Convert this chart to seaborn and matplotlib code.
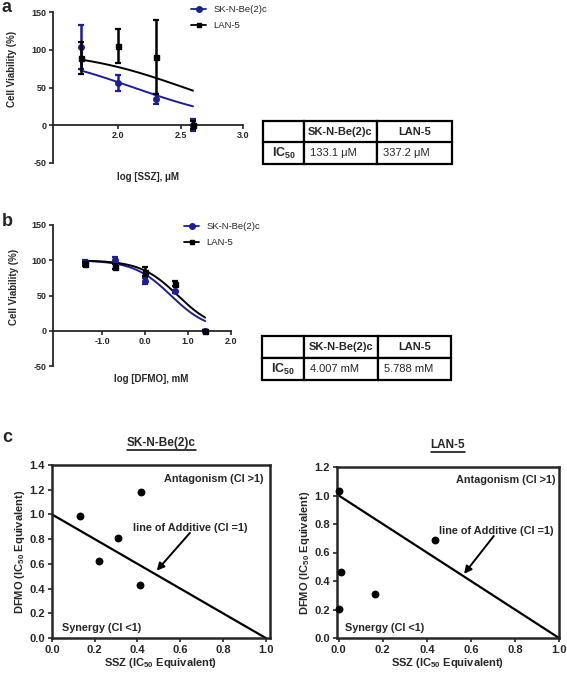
import numpy as np
import pandas as pd
import matplotlib
matplotlib.use("Agg")
import matplotlib.pyplot as plt
import seaborn as sns
from matplotlib.lines import Line2D

# ---------------- data ----------------
cell_lines = ["SK-N-Be(2)c", "LAN-5"]
line_colors = ["#1c1f94", "#000000"]
line_markers = ["o", "s"]

# panel a : SSZ dose response
ssz_log_conc = [1.7, 2.0, 2.3, 2.6]
ssz_skn_mean = [104, 56, 35, 0]
ssz_skn_sd = [29, 10, 7, 8]
ssz_lan_mean = [89, 105, 90, 0]
ssz_lan_sd = [21, 22, 49, 5]
ssz_ic50_um = [133.1, 337.2]
ssz_ic50_text = ["133.1 μM", "337.2 μM"]
ssz_xticks = [2.0, 2.5, 3.0]

# panel b : DFMO dose response
dfmo_log_conc = [-1.4, -0.7, 0.0, 0.7, 1.4]
dfmo_skn_mean = [98, 100, 71, 56, 0]
dfmo_skn_sd = [3, 5, 4, 2, 1]
dfmo_lan_mean = [95, 91, 84, 67, 0]
dfmo_lan_sd = [3, 4, 6, 3, 1]
dfmo_ic50_mm = [4.007, 5.788]
dfmo_ic50_text = ["4.007 mM", "5.788 mM"]
dfmo_xticks = [-1.0, 0.0, 1.0, 2.0]

viability_yticks = [-50, 0, 50, 100, 150]
hill_slope = 1.0

# panel c : isobolograms
iso_skn_ssz = [0.13, 0.22, 0.31, 0.415, 0.41]
iso_skn_dfmo = [0.99, 0.62, 0.81, 1.18, 0.43]
iso_lan_ssz = [0.0, 0.008, 0.0, 0.166, 0.435]
iso_lan_dfmo = [1.035, 0.465, 0.205, 0.31, 0.69]
additive_ssz = [0.0, 1.0]
additive_dfmo = [1.0, 0.0]
iso_xticks = [0.0, 0.2, 0.4, 0.6, 0.8, 1.0]
iso_skn_yticks = [0.0, 0.2, 0.4, 0.6, 0.8, 1.0, 1.2, 1.4]
iso_lan_yticks = [0.0, 0.2, 0.4, 0.6, 0.8, 1.0, 1.2]

# ---------------- style ----------------
sns.set_theme(style="ticks")
plt.rcParams["font.family"] = ["Liberation Sans", "DejaVu Sans"]
plt.rcParams["mathtext.fontset"] = "custom"
plt.rcParams["mathtext.rm"] = "Liberation Sans"
plt.rcParams["mathtext.bf"] = "Liberation Sans:bold"
plt.rcParams["mathtext.it"] = "Liberation Sans:italic"
plt.rcParams["axes.unicode_minus"] = False

W, H = 567, 675
fig = plt.figure(figsize=(W / 100, H / 100), dpi=100)


def fbox(x0, y0, x1, y1):
    return [x0 / W, 1 - y1 / H, (x1 - x0) / W, (y1 - y0) / H]


GP = ["Liberation Sans Narrow", "Liberation Sans", "DejaVu Sans"]


def dose_panel(ax, xs, means, sds, ic50s, xlim, xticks, xlabel, xlab_x, ylab_y):
    for i, name in enumerate(cell_lines):
        logic = np.log10(ic50s[i])
        xf = np.linspace(xs[0], xs[-1], 200)
        yf = 100.0 / (1.0 + 10 ** ((xf - logic) * hill_slope))
        sns.lineplot(x=xf, y=yf, ax=ax, color=line_colors[i], lw=1.4, zorder=2)
    for i, name in enumerate(cell_lines):
        ax.errorbar(xs, means[i], yerr=sds[i], fmt=line_markers[i], color=line_colors[i],
                    ms=4.0 if i == 0 else 3.6, elinewidth=1.8, capsize=2.2, capthick=1.6,
                    zorder=3 + i)
    ax.set_xlim(*xlim)
    ax.set_ylim(-50, 150)
    ax.set_yticks(viability_yticks)
    ax.set_xticks(xticks)
    ax.set_xticklabels([f"{t:.1f}" for t in xticks])
    ax.spines["top"].set_visible(False)
    ax.spines["right"].set_visible(False)
    ax.spines["bottom"].set_position(("data", 0))
    ax.spines["left"].set_linewidth(1.3)
    ax.spines["bottom"].set_linewidth(1.3)
    ax.tick_params(axis="both", direction="out", length=3, width=1.2, labelsize=6.5, pad=1.5)
    for lbl in ax.get_xticklabels() + ax.get_yticklabels():
        lbl.set_fontweight("bold")
        lbl.set_family(GP)
    ax.set_xlabel(xlabel, fontsize=7, fontweight="bold", family=GP)
    ax.xaxis.set_label_coords(xlab_x, -0.06)
    ax.set_ylabel("Cell Viability (%)", fontsize=7, fontweight="bold", family=GP)
    ax.yaxis.set_label_coords(-0.19, ylab_y)
    ax.set_facecolor("none")


ax_a = fig.add_axes(fbox(53, 12, 243, 163))
dose_panel(ax_a, ssz_log_conc, [ssz_skn_mean, ssz_lan_mean], [ssz_skn_sd, ssz_lan_sd],
           ssz_ic50_um, (1.48, 3.0), ssz_xticks, "log [SSZ], μM", 0.5, 0.62)

ax_b = fig.add_axes(fbox(53, 225, 231, 366))
dose_panel(ax_b, dfmo_log_conc, [dfmo_skn_mean, dfmo_lan_mean], [dfmo_skn_sd, dfmo_lan_sd],
           dfmo_ic50_mm, (-2.14, 2.0), dfmo_xticks, "log [DFMO], mM", 0.55, 0.56)


def legend_for(x, y):
    handles = [Line2D([], [], color=line_colors[i], marker=line_markers[i], lw=1.3,
                      ms=4 if i == 0 else 3.5) for i in range(2)]
    fig.legend(handles, cell_lines, loc="upper left", bbox_to_anchor=(x / W, 1 - y / H),
               frameon=False, borderpad=0, borderaxespad=0, handlelength=1.6,
               handletextpad=0.8, labelspacing=0.75, prop={"family": GP, "size": 6.8})


legend_for(191, 5)
legend_for(184, 222)


def table_panel(box, values, colfracs):
    axt = fig.add_axes(box)
    axt.axis("off")
    cells = [["", cell_lines[0], cell_lines[1]],
             [r"$\mathbf{IC}_{\mathbf{50}}$", values[0], values[1]]]
    tb = axt.table(cellText=cells, colWidths=colfracs, bbox=[0, 0, 1, 1])
    tb.auto_set_font_size(False)
    for (r, c), cell in tb.get_celld().items():
        cell.set_linewidth(1.6)
        cell.set_edgecolor("black")
        t = cell.get_text()
        t.set_fontsize(8)
        t.set_family(["Liberation Sans", "DejaVu Sans"])
        if r == 0:
            t.set_fontweight("bold")
            cell._loc = "center"
            t.set_horizontalalignment("center")
        elif c == 0:
            t.set_fontsize(9)
            cell._loc = "center"
            t.set_horizontalalignment("center")
        else:
            cell._loc = "left"
            t.set_horizontalalignment("left")
            cell.PAD = 0.08
    return axt


table_panel(fbox(263, 121, 452, 164), ssz_ic50_text, [0.217, 0.386, 0.397])
table_panel(fbox(262, 336, 451, 380), dfmo_ic50_text, [0.222, 0.392, 0.386])


def iso_panel(ax, xs, ys, xlim, ylim, yticks, title, notes):
    sns.lineplot(x=additive_ssz, y=additive_dfmo, ax=ax, color="black", lw=1.6, zorder=2)
    df = pd.DataFrame({"ssz": xs, "dfmo": ys})
    sns.scatterplot(data=df, x="ssz", y="dfmo", ax=ax, color="black", s=32,
                    edgecolor="black", linewidth=0, zorder=3, clip_on=False)
    ax.set_xlim(*xlim)
    ax.set_ylim(*ylim)
    ax.set_xticks(iso_xticks)
    ax.set_yticks(yticks)
    ax.set_xticklabels([f"{t:.1f}" for t in iso_xticks])
    ax.set_yticklabels([f"{t:.1f}" for t in yticks])
    for s in ax.spines.values():
        s.set_linewidth(1.8)
        s.set_visible(True)
    ax.tick_params(axis="both", direction="out", length=3, width=1.2, labelsize=8, pad=2)
    for lbl in ax.get_xticklabels() + ax.get_yticklabels():
        lbl.set_fontweight("bold")
    ax.set_xlabel(r"SSZ (IC$_{\mathbf{50}}$ Equivalent)", fontsize=8, fontweight="bold", labelpad=1)
    ax.set_ylabel(r"DFMO (IC$_{\mathbf{50}}$ Equivalent)", fontsize=8, fontweight="bold", labelpad=2)
    ax.set_facecolor("white")
    (ax_x, ax_y, ha), (lx, ly), (arr0, arr1), (sx, sy) = notes
    ax.text(ax_x, ax_y, "Antagonism (CI >1)", ha=ha, va="center", fontsize=7.8, fontweight="bold")
    ax.text(lx, ly, "line of Additive (CI =1)", ha="left", va="center", fontsize=7.8, fontweight="bold")
    ax.annotate("", xy=arr1, xytext=arr0,
                arrowprops=dict(arrowstyle="-|>", lw=1.4, color="black", mutation_scale=11,
                                shrinkA=0, shrinkB=0))
    ax.text(sx, sy, "Synergy (CI <1)", ha="left", va="center", fontsize=7.8, fontweight="bold")
    t = ax.set_title(title, fontsize=8.5, fontweight="bold", pad=14)
    return t


ax_c1 = fig.add_axes(fbox(52, 465, 270, 638))
t1 = iso_panel(ax_c1, iso_skn_ssz, iso_skn_dfmo, (0, 1.02), (0, 1.4), iso_skn_yticks,
               cell_lines[0],
               ((0.99, 1.29, "right"), (0.377, 0.89), ((0.645, 0.85), (0.49, 0.545)), (0.047, 0.08)))
ax_c2 = fig.add_axes(fbox(337, 467, 559, 638))
t2 = iso_panel(ax_c2, iso_lan_ssz, iso_lan_dfmo, (-0.008, 1.0), (0, 1.2), iso_lan_yticks,
               cell_lines[1],
               ((0.985, 1.107, "right"), (0.457, 0.753), ((0.704, 0.716), (0.569, 0.45)), (0.03, 0.07)))

# panel letters
fig.text(1 / W, 1 - 8 / H, "a", fontsize=13, fontweight="bold", va="center", ha="left")
fig.text(2 / W, 1 - 221 / H, "b", fontsize=13, fontweight="bold", va="center", ha="left")
fig.text(2 / W, 1 - 437 / H, "c", fontsize=13, fontweight="bold", va="center", ha="left")

# underline the isobologram titles
fig.canvas.draw()
renderer = fig.canvas.get_renderer()
for t in (t1, t2):
    bb = t.get_window_extent(renderer)
    y = bb.y0 - 1.5
    fig.add_artist(Line2D([bb.x0 / W, bb.x1 / W], [y / H, y / H],
                          transform=fig.transFigure, color="black", lw=1.1))

fig.savefig("out.png", dpi=100)
